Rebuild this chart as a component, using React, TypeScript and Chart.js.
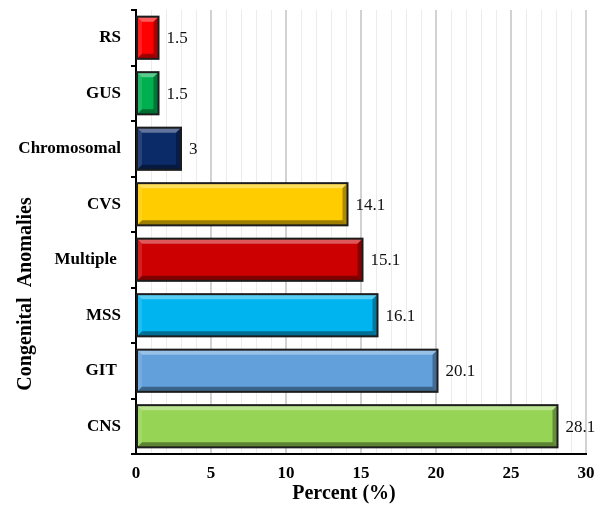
import React, { useEffect, useRef } from "react";
import { Chart, registerables } from "chart.js";

Chart.register(...registerables);

const categories = ["RS", "GUS", "Chromosomal", "CVS", "Multiple ", "MSS", "GIT ", "CNS"];
const percentValues = [1.5, 1.5, 3, 14.1, 15.1, 16.1, 20.1, 28.1];
const barColors = ["#ff0000", "#00b050", "#0b2a68", "#ffcc00", "#cc0000", "#00b4f0", "#62a0dc", "#96d455"];
const xTickLabels = [0, 5, 10, 15, 20, 25, 30];
const xAxisTitle = "Percent (%)";
const yAxisTitle = "Congenital  Anomalies";

const SERIF = "'Liberation Serif', 'Times New Roman', serif";

const bevelPlugin = {
  id: "bevel",
  afterDatasetsDraw(chart: any) {
    const ctx = chart.ctx;
    const meta = chart.getDatasetMeta(0);
    meta.data.forEach((el: any) => {
      const l = Math.min(el.base, el.x);
      const r = Math.max(el.base, el.x);
      const t = el.y - el.height / 2;
      const b = el.y + el.height / 2;
      const bw = Math.min(5, (r - l) / 2);
      ctx.save();
      const poly = (pts: number[][], fill: string) => {
        ctx.beginPath();
        ctx.moveTo(pts[0][0], pts[0][1]);
        for (let i = 1; i < pts.length; i++) ctx.lineTo(pts[i][0], pts[i][1]);
        ctx.closePath();
        ctx.fillStyle = fill;
        ctx.fill();
      };
      poly([[l, t], [r, t], [r - bw, t + bw], [l + bw, t + bw]], "rgba(255,255,255,0.35)");
      poly([[l, b], [r, b], [r - bw, b - bw], [l + bw, b - bw]], "rgba(0,0,0,0.38)");
      poly([[l, t], [l + bw, t + bw], [l + bw, b - bw], [l, b]], "rgba(255,255,255,0.12)");
      poly([[r, t], [r - bw, t + bw], [r - bw, b - bw], [r, b]], "rgba(0,0,0,0.32)");
      ctx.lineWidth = 2;
      ctx.strokeStyle = "#1c1c1c";
      ctx.strokeRect(l, t, r - l, b - t);
      ctx.restore();
    });
  },
};

const valueLabelPlugin = {
  id: "valueLabels",
  afterDatasetsDraw(chart: any) {
    const ctx = chart.ctx;
    const meta = chart.getDatasetMeta(0);
    const data = chart.data.datasets[0].data;
    ctx.save();
    ctx.font = `17px ${SERIF}`;
    ctx.fillStyle = "#111";
    ctx.textBaseline = "middle";
    ctx.textAlign = "left";
    meta.data.forEach((el: any, i: number) => {
      const txt = String(data[i]);
      const w = ctx.measureText(txt).width;
      let x = el.x + 8;
      if (x + w > chart.width - 3) x = chart.width - 3 - w;
      ctx.fillText(txt, x, el.y + 1);
    });
    ctx.restore();
  },
};

const axisTitlePlugin = {
  id: "axisTitles",
  afterDraw(chart: any) {
    const ctx = chart.ctx;
    ctx.save();
    ctx.font = `bold 20px ${SERIF}`;
    ctx.fillStyle = "#000";
    ctx.textAlign = "center";
    ctx.textBaseline = "middle";
    ctx.fillText(xAxisTitle, 344, 494);
    ctx.translate(26, 294);
    ctx.rotate(-Math.PI / 2);
    ctx.fillText(yAxisTitle, 0, 0);
    ctx.restore();
  },
};

export default function App() {
  const canvasRef = useRef<HTMLCanvasElement | null>(null);

  useEffect(() => {
    if (!canvasRef.current) return;
    const chart = new Chart(canvasRef.current, {
      type: "bar",
      data: {
        labels: categories,
        datasets: [
          {
            data: percentValues,
            backgroundColor: barColors,
            borderWidth: 0,
            categoryPercentage: 1,
            barPercentage: 0.76,
          },
        ],
      },
      options: {
        indexAxis: "y",
        animation: false,
        responsive: true,
        maintainAspectRatio: false,
        layout: { padding: { top: 10, right: 15, left: 0, bottom: 0 } },
        plugins: {
          legend: { display: false },
          tooltip: { enabled: false },
        },
        scales: {
          x: {
            type: "linear",
            min: 0,
            max: 30,
            afterFit: (scale: any) => {
              scale.height = 56;
              scale.paddingLeft = 0;
              scale.paddingRight = 0;
            },
            ticks: {
              stepSize: 1,
              autoSkip: false,
              maxRotation: 0,
              padding: 9,
              color: "#000",
              font: { family: SERIF, size: 17, weight: "bold" },
              callback: (v: any) => (xTickLabels.includes(Number(v)) ? String(v) : ""),
            },
            grid: {
              drawTicks: false,
              color: (c: any) => (c.tick && c.tick.value % 5 === 0 ? "#d2d2d2" : "#ececec"),
              lineWidth: (c: any) => (c.tick && c.tick.value % 5 === 0 ? 2 : 1),
            },
            border: { color: "#000", width: 2 },
          },
          y: {
            afterFit: (scale: any) => {
              scale.width = 136;
              scale.paddingTop = 0;
              scale.paddingBottom = 0;
            },
            ticks: {
              padding: 10,
              color: "#000",
              font: { family: SERIF, size: 17, weight: "bold" },
            },
            grid: {
              drawOnChartArea: false,
              drawTicks: true,
              tickLength: 5,
              color: "#000",
              lineWidth: 2,
            },
            border: { color: "#000", width: 2 },
          },
        },
      },
      plugins: [bevelPlugin, valueLabelPlugin, axisTitlePlugin],
    });
    return () => chart.destroy();
  }, []);

  return (
    <div style={{ position: "fixed", left: 0, top: 0, width: 601, height: 510, background: "#fff" }}>
      <canvas ref={canvasRef} />
    </div>
  );
}
